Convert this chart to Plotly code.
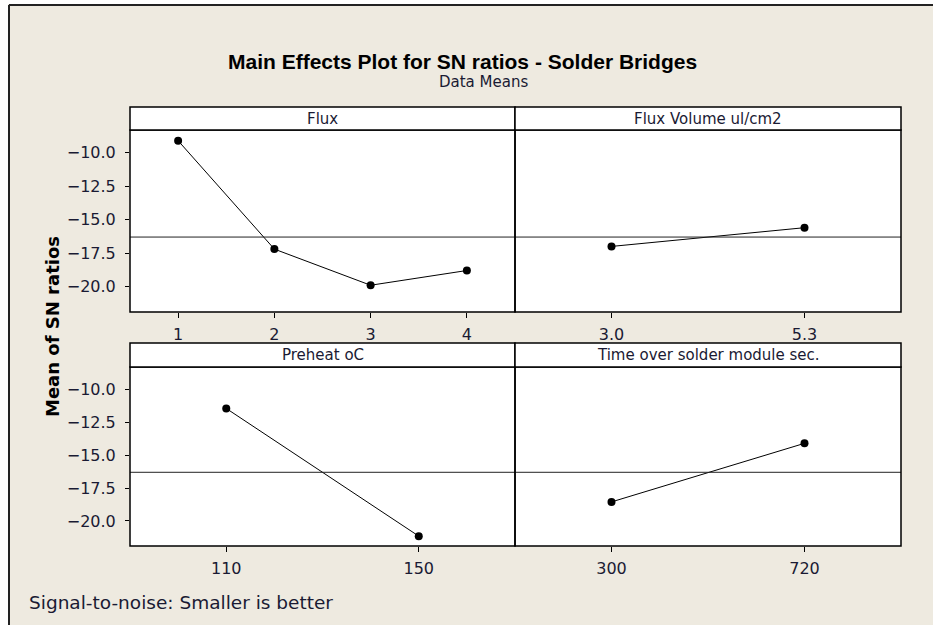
import plotly.graph_objects as go
from plotly.subplots import make_subplots

# ---- data ----
factors = ["Flux", "Flux Volume ul/cm2", "Preheat oC", "Time over solder module sec."]

flux_levels = ["1", "2", "3", "4"]
flux_sn = [-9.1, -17.2, -19.9, -18.8]

volume_levels = ["3.0", "5.3"]
volume_sn = [-17.0, -15.6]

preheat_levels = ["110", "150"]
preheat_sn = [-11.45, -21.15]

time_levels = ["300", "720"]
time_sn = [-18.55, -14.1]

grand_mean = -16.3
y_ticks = [-20.0, -17.5, -15.0, -12.5, -10.0]

W, H = 933, 625
BG = "#EEEAE0"
TXT = "#1a1a33"
FONT = "DejaVu Sans"


def px_x(x):
    return x / W


def px_y(y):
    return 1 - y / H


fig = make_subplots(rows=2, cols=2)

panels = [
    (1, 1, flux_levels, flux_sn),
    (1, 2, volume_levels, volume_sn),
    (2, 1, preheat_levels, preheat_sn),
    (2, 2, time_levels, time_sn),
]

# panel boxes in pixels: x0, x1 / strip top, plot top, plot bottom
cols_px = {1: (130, 515), 2: (515, 901)}
rows_px = {1: (107, 130, 312), 2: (343, 367, 546)}

for (r, c, levels, vals), name in zip(panels, factors):
    pos = list(range(1, len(levels) + 1))
    fig.add_trace(go.Scatter(
        x=pos, y=vals, mode="lines+markers",
        line=dict(color="black", width=1),
        marker=dict(color="black", size=8),
        showlegend=False, hoverinfo="skip",
    ), row=r, col=c)

    # grand mean reference line
    fig.add_trace(go.Scatter(
        x=[0.5, len(levels) + 0.5], y=[grand_mean, grand_mean], mode="lines",
        line=dict(color="#222222", width=1),
        showlegend=False, hoverinfo="skip",
    ), row=r, col=c)

    x0, x1 = cols_px[c]
    st, pt, pb = rows_px[r]

    fig.update_xaxes(
        domain=[px_x(x0), px_x(x1)],
        range=[0.5, len(levels) + 0.5],
        tickvals=pos, ticktext=levels,
        ticks="outside", ticklen=5, tickcolor="black",
        ticklabelstandoff=3,
        showline=False, showgrid=False, zeroline=False,
        tickfont=dict(family=FONT, size=16, color=TXT),
        row=r, col=c,
    )
    fig.update_yaxes(
        domain=[px_y(pb), px_y(pt)],
        range=[-21.9, -8.3],
        tickvals=y_ticks, tickformat=".1f",
        ticks="outside" if c == 1 else "", ticklen=4, tickcolor="black",
        ticklabelstandoff=6,
        showticklabels=(c == 1),
        showline=False, showgrid=False, zeroline=False,
        tickfont=dict(family=FONT, size=16, color=TXT),
        row=r, col=c,
    )

    # panel box
    fig.add_shape(type="rect", xref="paper", yref="paper",
                  x0=px_x(x0), x1=px_x(x1), y0=px_y(pb), y1=px_y(pt),
                  fillcolor="rgba(0,0,0,0)", line=dict(color="black", width=1.5),
                  layer="above")
    # strip header
    fig.add_shape(type="rect", xref="paper", yref="paper",
                  x0=px_x(x0), x1=px_x(x1), y0=px_y(pt), y1=px_y(st),
                  fillcolor="white", line=dict(color="black", width=1.5))
    fig.add_annotation(text=name, xref="paper", yref="paper",
                       x=px_x((x0 + x1) / 2), y=px_y((st + pt) / 2),
                       showarrow=False, xanchor="center", yanchor="middle",
                       font=dict(family=FONT, size=15, color=TXT))

# white margin outside the cropped frame, then the frame's left and top edges
fig.add_shape(type="rect", xref="paper", yref="paper",
              x0=0, x1=px_x(8), y0=0, y1=1,
              fillcolor="white", line=dict(width=0), layer="above")
fig.add_shape(type="rect", xref="paper", yref="paper",
              x0=0, x1=1, y0=px_y(4), y1=1,
              fillcolor="white", line=dict(width=0), layer="above")
fig.add_shape(type="line", xref="paper", yref="paper",
              x0=px_x(9), x1=px_x(9), y0=0, y1=px_y(5),
              line=dict(color="#222222", width=2))
fig.add_shape(type="line", xref="paper", yref="paper",
              x0=px_x(9), x1=1, y0=px_y(5), y1=px_y(5),
              line=dict(color="#222222", width=2))

fig.add_annotation(text="<b>Main Effects Plot for SN ratios - Solder Bridges</b>",
                   xref="paper", yref="paper", x=px_x(462), y=px_y(61),
                   showarrow=False, xanchor="center", yanchor="middle",
                   font=dict(family="Liberation Sans", size=21, color="black"))
fig.add_annotation(text="Data Means",
                   xref="paper", yref="paper", x=px_x(483), y=px_y(82),
                   showarrow=False, xanchor="center", yanchor="middle",
                   font=dict(family=FONT, size=15, color=TXT))
fig.add_annotation(text="<b>Mean of SN ratios</b>",
                   xref="paper", yref="paper", x=px_x(52), y=px_y(327),
                   showarrow=False, textangle=-90, xanchor="center", yanchor="middle",
                   font=dict(family=FONT, size=18, color="black"))
fig.add_annotation(text="Signal-to-noise: Smaller is better",
                   xref="paper", yref="paper", x=px_x(27), y=px_y(602),
                   showarrow=False, xanchor="left", yanchor="middle",
                   font=dict(family=FONT, size=18.5, color=TXT))

fig.update_layout(
    width=W, height=H,
    margin=dict(l=0, r=0, t=0, b=0),
    paper_bgcolor=BG, plot_bgcolor="white",
    showlegend=False,
)

# drop the page's default body margin so the figure fills the window
fig.write_html("out.html",
               config={"displayModeBar": False},
               post_script="document.body.style.margin='0';"
                           "document.body.style.overflow='hidden';")
